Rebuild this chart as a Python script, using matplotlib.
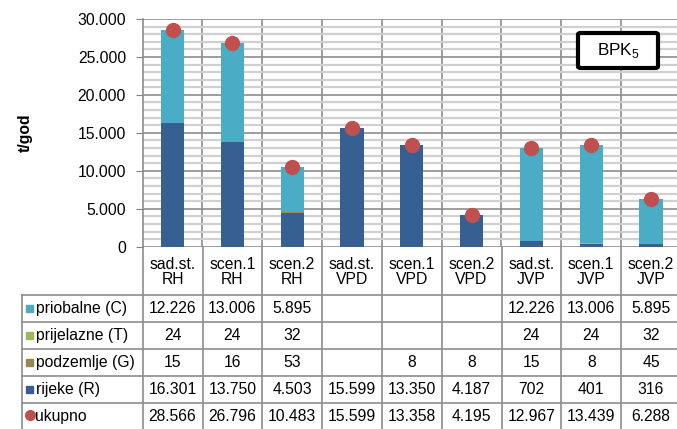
import numpy as np
import matplotlib.pyplot as plt
from matplotlib.patches import FancyBboxPatch, Rectangle
from matplotlib.lines import Line2D

plt.rcParams['font.family'] = ['Liberation Sans', 'DejaVu Sans']

# ---------------- data ----------------
categories = ["sad.st.\nRH", "scen.1\nRH", "scen.2\nRH",
              "sad.st.\nVPD", "scen.1\nVPD", "scen.2\nVPD",
              "sad.st.\nJVP", "scen.1\nJVP", "scen.2\nJVP"]
rijeke     = [16301, 13750, 4503, 15599, 13350, 4187, 702, 401, 316]
podzemlje  = [15, 16, 53, 0, 8, 8, 15, 8, 45]
prijelazne = [24, 24, 32, 0, 0, 0, 24, 24, 32]
priobalne  = [12226, 13006, 5895, 0, 0, 0, 12226, 13006, 5895]
ukupno     = [28566, 26796, 10483, 15599, 13358, 4195, 12967, 13439, 6288]

row_labels = ["priobalne (C)", "prijelazne (T)", "podzemlje (G)", "rijeke (R)", "ukupno"]
row_text = [
    ["12.226", "13.006", "5.895", "", "", "", "12.226", "13.006", "5.895"],
    ["24", "24", "32", "", "", "", "24", "24", "32"],
    ["15", "16", "53", "", "8", "8", "15", "8", "45"],
    ["16.301", "13.750", "4.503", "15.599", "13.350", "4.187", "702", "401", "316"],
    ["28.566", "26.796", "10.483", "15.599", "13.358", "4.195", "12.967", "13.439", "6.288"],
]

c_C = "#4BACC6"
c_T = "#9BBB59"
c_G = "#948A54"
c_R = "#376092"
c_U = "#C0504D"
row_colors = [c_C, c_T, c_G, c_R, c_U]

FS = 11.3

W, H = 677, 429
fig = plt.figure(figsize=(W / 100, H / 100), dpi=100)

# pixel geometry
x0 = 142.7
colw = 59.8
n = len(categories)
y_top, y_zero = 19.0, 246.7

def fx(px):
    return px / W

def fy(py):
    return 1 - py / H

# ---------------- chart ----------------
ax = fig.add_axes([fx(x0), fy(y_zero), fx(n * colw), (y_zero - y_top) / H])
x = np.arange(n)
bw = 0.39
b = np.zeros(n)
for vals, col in [(rijeke, c_R), (podzemlje, c_G), (prijelazne, c_T), (priobalne, c_C)]:
    ax.bar(x, vals, bw, bottom=b, color=col, zorder=3)
    b = b + np.array(vals)
ax.plot(x, ukupno, 'o', color=c_U, markersize=10, zorder=4)

ax.set_xlim(-0.5, n - 0.5)
ax.set_ylim(0, 30000)
ax.set_yticks(np.arange(0, 30001, 5000))
ax.set_yticklabels(["0" if v == 0 else f"{v // 1000}.000" for v in range(0, 30001, 5000)])
ax.set_yticks(np.arange(0, 30001, 1000), minor=True)
ax.tick_params(axis='y', which='major', length=5, color="#808080", labelsize=FS, pad=7)
ax.tick_params(axis='y', which='minor', length=0)
ax.set_xticks([])
ax.grid(axis='y', which='minor', color="#D0D0D0", linewidth=1.6, zorder=0)
ax.grid(axis='y', which='major', color="#8C8C8C", linewidth=1.2, zorder=1)
for k in range(1, n):
    ax.axvline(k - 0.5, color="#8C8C8C", linewidth=1.2, zorder=1)
for s in ["top", "right", "bottom"]:
    ax.spines[s].set_visible(False)
ax.spines["left"].set_color("#8C8C8C")
ax.spines["left"].set_linewidth(1.2)
ax.set_ylabel("t/god", fontsize=FS, fontweight="bold")
ax.yaxis.set_label_coords(-(x0 - 33) / (n * colw), 0.5)

# title box
box = FancyBboxPatch((fx(578), fy(68)), fx(80), (68 - 33) / H,
                     boxstyle="round,pad=0,rounding_size=0.004",
                     transform=fig.transFigure, facecolor="white",
                     edgecolor="black", linewidth=3, zorder=10)
fig.add_artist(box)
fig.text(fx(618), fy(51), r"BPK$_\mathregular{5}$", fontsize=FS + 1,
         ha="center", va="center", zorder=11)

# ---------------- table ----------------
line_col = "#8C8C8C"
t_left = 21.7
rows_y = [295, 322, 349, 376, 403.3, 432]

# vertical column lines below the chart
for k in range(n + 1):
    px = x0 + k * colw
    fig.add_artist(Line2D([fx(px), fx(px)], [fy(y_zero), fy(H)], color=line_col,
                          linewidth=1.2, transform=fig.transFigure))
fig.add_artist(Line2D([fx(t_left), fx(t_left)], [fy(rows_y[0]), fy(H)], color=line_col,
                      linewidth=1.2, transform=fig.transFigure))
for ry in rows_y[:-1]:
    fig.add_artist(Line2D([fx(t_left), 1.0], [fy(ry), fy(ry)], color=line_col,
                          linewidth=1.2, transform=fig.transFigure))

# category labels
for k, lab in enumerate(categories):
    cx = x0 + (k + 0.5) * colw
    fig.text(fx(cx), fy(272), lab, fontsize=FS, ha="center", va="center", linespacing=1.05)

# rows
for r in range(5):
    cy = (rows_y[r] + rows_y[r + 1]) / 2 - (1.5 if r == 4 else 0)
    if r < 4:
        fig.add_artist(Rectangle((fx(26), fy(cy + 3.5)), fx(7), 7 / H,
                                 transform=fig.transFigure, color=row_colors[r]))
    else:
        fig.add_artist(Line2D([fx(30)], [fy(cy - 1.5)], marker='o', markersize=7,
                              color=c_U, linestyle='none', transform=fig.transFigure))
    fig.text(fx(35.5), fy(cy), row_labels[r], fontsize=FS, ha="left", va="center")
    for k in range(n):
        cx = x0 + (k + 0.5) * colw
        fig.text(fx(cx), fy(cy), row_text[r][k], fontsize=FS, ha="center", va="center")

fig.savefig("out.png", dpi=100)
